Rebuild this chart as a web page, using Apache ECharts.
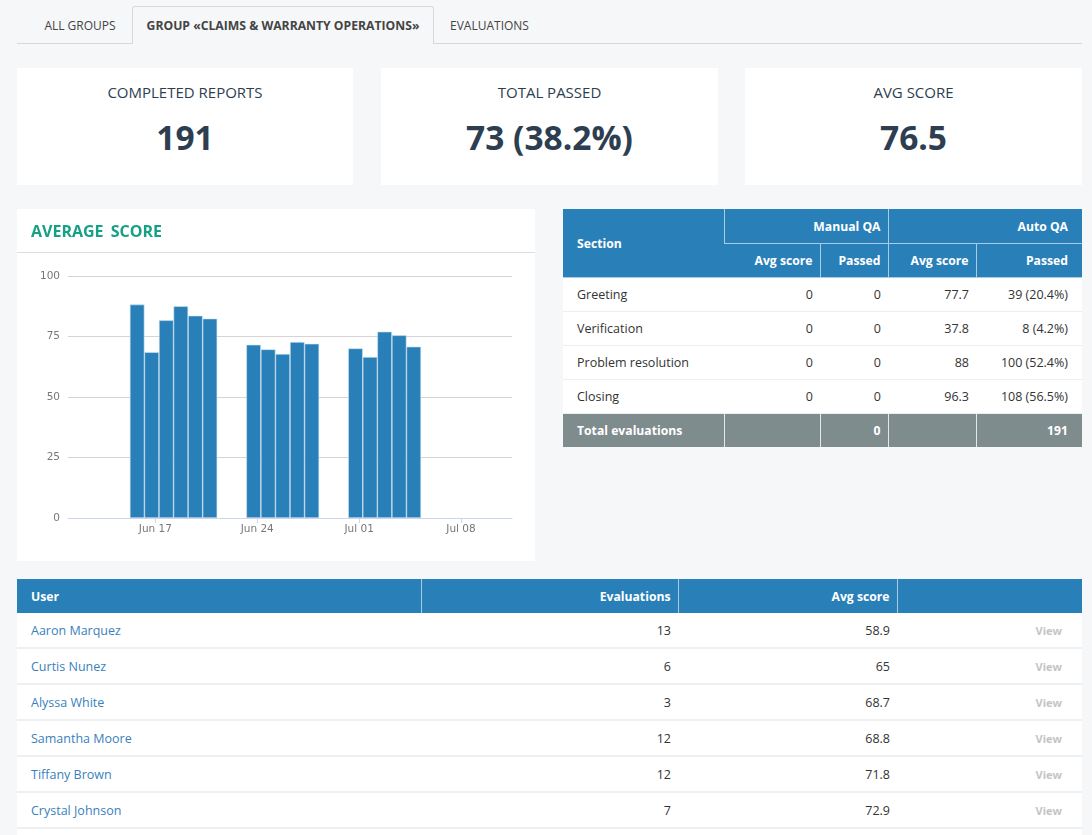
<!DOCTYPE html>
<html>
<head>
<meta charset="utf-8">
<script src="https://cdn.jsdelivr.net/npm/echarts@6/dist/echarts.min.js"></script>
<style>
  html, body { margin: 0; padding: 0; width: 1092px; height: 835px; overflow: hidden; background: #f6f7f9; font-family: "Open Sans", sans-serif; color: #333; }
  .abs { position: absolute; box-sizing: border-box; }
  .tabline { left: 17px; top: 43px; width: 1065px; height: 1px; background: #d5d9de; }
  .tab { top: 6px; height: 38px; line-height: 39px; font-size: 12px; text-align: center; color: #444; }
  .tab.active { background: #f6f7f9; border: 1px solid #d5d9de; border-bottom: 0; border-radius: 3px 3px 0 0; font-size: 12.2px; font-weight: 700; line-height: 37px; }
  .stat { top: 68px; height: 117px; background: #fff; text-align: center; color: #2c3e50; }
  .stat .name { position: absolute; top: 14px; width: 100%; font-size: 15px; line-height: 20px; }
  .stat .num { position: absolute; top: 45px; width: 100%; font-size: 33.5px; line-height: 48px; font-weight: 700; }
  .card { left: 17px; top: 209px; width: 518px; height: 352px; background: #fff; }
  .card .head { position: absolute; left: 0; top: 0; width: 100%; height: 44px; border-bottom: 1px solid #ddd; box-sizing: border-box; padding-left: 14px; line-height: 45px; font-size: 16px; font-weight: 700; color: #16a085; word-spacing: 3px; }
  #chart { position: absolute; left: 0; top: 0; width: 518px; height: 352px; }
  table { border-collapse: collapse; table-layout: fixed; font-size: 12.5px; background: #fff; }
  th { background: #2980b9; color: #fff; font-size: 12.2px; font-weight: 700; padding: 0 7px; border-left: 1px solid #a9cbe3; text-align: right; }
  td { padding: 0 7px; text-align: right; border-bottom: 1px solid #eceef0; }
  th.l, td.l { text-align: left; padding-left: 14px; }
  th.e, td.e { padding-right: 14px; }
  tr th:first-child, tr td:first-child { border-left: 0; }
  #sections { left: 563px; top: 209px; width: 519px; }
  #sections th { height: 34px; box-sizing: border-box; border-bottom: 1px solid #a9cbe3; padding-top: 1px; }
  #sections td { height: 34px; box-sizing: border-box; }
  #sections tr.total td { background: #7f8c8d; color: #fff; font-size: 12.2px; font-weight: 700; border-left: 1px solid #e4e8e8; border-bottom: 0; height: 34px; }
  #sections tr.total td:first-child { border-left: 0; }
  #users { left: 17px; top: 579px; width: 1065px; }
  #users th { height: 34px; box-sizing: border-box; }
  #users td { height: 36px; box-sizing: border-box; border-bottom: 2px solid #eff0f2; }
  #users tr.first td { height: 35px; }
  #users td.l { color: #3a7fbd; }
  #users td.view { padding-right: 20px; padding-top: 1px; color: #c4c4c4; font-weight: 700; font-size: 11px; }
</style>
</head>
<body>
<div class="abs tabline"></div>
<div class="abs tab" style="left:29px;width:102px">ALL GROUPS</div>
<div class="abs tab active" style="left:132px;width:302px">GROUP «CLAIMS &amp; WARRANTY OPERATIONS»</div>
<div class="abs tab" style="left:434px;width:111px">EVALUATIONS</div>

<div class="abs stat" style="left:17px;width:336px"><div class="name">COMPLETED REPORTS</div><div class="num">191</div></div>
<div class="abs stat" style="left:381px;width:337px"><div class="name">TOTAL PASSED</div><div class="num">73 (38.2%)</div></div>
<div class="abs stat" style="left:745px;width:337px"><div class="name">AVG SCORE</div><div class="num">76.5</div></div>

<div class="abs card">
  <div id="chart"></div>
  <div class="head">AVERAGE SCORE</div>
</div>

<table class="abs" id="sections"></table>
<table class="abs" id="users"></table>

<script>
// chart data
const barDates = [
  '2019-06-15 18:00', '2019-06-16 18:00', '2019-06-17 18:00', '2019-06-18 18:00', '2019-06-19 18:00', '2019-06-20 18:00',
  '2019-06-23 18:00', '2019-06-24 18:00', '2019-06-25 18:00', '2019-06-26 18:00', '2019-06-27 18:00',
  '2019-06-30 18:00', '2019-07-01 18:00', '2019-07-02 18:00', '2019-07-03 18:00', '2019-07-04 18:00'
];
const barValues = [88.2, 68.5, 81.7, 87.5, 83.6, 82.4, 71.6, 69.7, 67.8, 72.7, 72, 70.1, 66.5, 77, 75.5, 70.8];
const tickDates = ['2019-06-17', '2019-06-24', '2019-07-01', '2019-07-08'];
const tickLabels = ['Jun 17', 'Jun 24', 'Jul 01', 'Jul 08'];
const xStart = '2019-06-11 00:00';
const xEnd = '2019-07-11 12:00';

// section table
const sectionNames = ['Greeting', 'Verification', 'Problem resolution', 'Closing'];
const manualAvg = [0, 0, 0, 0];
const manualPassed = [0, 0, 0, 0];
const autoAvg = [77.7, 37.8, 88, 96.3];
const autoPassed = ['39 (20.4%)', '8 (4.2%)', '100 (52.4%)', '108 (56.5%)'];

// user table
const userNames = ['Aaron Marquez', 'Curtis Nunez', 'Alyssa White', 'Samantha Moore', 'Tiffany Brown', 'Crystal Johnson'];
const userEvals = [13, 6, 3, 12, 12, 7];
const userScores = [58.9, 65, 68.7, 68.8, 71.8, 72.9];

document.getElementById('sections').innerHTML =
  '<colgroup><col style="width:161px"><col style="width:96px"><col style="width:68px"><col style="width:88px"><col style="width:106px"></colgroup>' +
  '<tr><th class="l" rowspan="2">Section</th><th colspan="2">Manual QA</th><th colspan="2" class="e">Auto QA</th></tr>' +
  '<tr><th>Avg score</th><th>Passed</th><th>Avg score</th><th class="e">Passed</th></tr>' +
  sectionNames.map((n, i) =>
    `<tr><td class="l">${n}</td><td>${manualAvg[i]}</td><td>${manualPassed[i]}</td><td>${autoAvg[i]}</td><td class="e">${autoPassed[i]}</td></tr>`
  ).join('') +
  '<tr class="total"><td class="l">Total evaluations</td><td></td><td>0</td><td></td><td class="e">191</td></tr>';

document.getElementById('users').innerHTML =
  '<colgroup><col style="width:404px"><col style="width:257px"><col style="width:219px"><col style="width:185px"></colgroup>' +
  '<tr><th class="l">User</th><th>Evaluations</th><th>Avg score</th><th></th></tr>' +
  userNames.map((n, i) =>
    `<tr${i === 0 ? ' class="first"' : ''}><td class="l">${n}</td><td>${userEvals[i]}</td><td>${userScores[i]}</td><td class="view">View</td></tr>`
  ).join('') +
  '<tr><td></td><td></td><td></td><td></td></tr>';

const toTime = d => +echarts.time.parse(d);
const tickTimes = tickDates.map(toTime);
const chart = echarts.init(document.getElementById('chart'));
chart.setOption({
  animation: false,
  grid: { left: 51, right: 23, top: 67, bottom: 43 },
  xAxis: {
    type: 'value',
    min: toTime(xStart),
    max: toTime(xEnd),
    axisLine: { lineStyle: { color: '#ccd6eb' } },
    axisTick: { length: 5, lineStyle: { color: '#ccd6eb' }, customValues: tickTimes },
    splitLine: { show: false },
    axisLabel: {
      customValues: tickTimes,
      color: '#777',
      fontSize: 10.5,
      fontFamily: 'DejaVu Sans',
      margin: 6,
      formatter: v => tickLabels[tickTimes.indexOf(+v)] || ''
    }
  },
  yAxis: {
    type: 'value',
    min: 0,
    max: 100,
    interval: 25,
    axisLine: { show: false },
    axisTick: { show: false },
    axisLabel: { color: '#777', fontSize: 10.5, fontFamily: 'DejaVu Sans', margin: 8 },
    splitLine: { lineStyle: { color: '#d4d4d4' } }
  },
  series: [{
    type: 'bar',
    barWidth: 14.6,
    data: barDates.map((d, i) => [toTime(d), barValues[i]]),
    itemStyle: { color: '#2980b9', borderColor: '#cfe2f0', borderWidth: 0.6 }
  }]
});
</script>
</body>
</html>
